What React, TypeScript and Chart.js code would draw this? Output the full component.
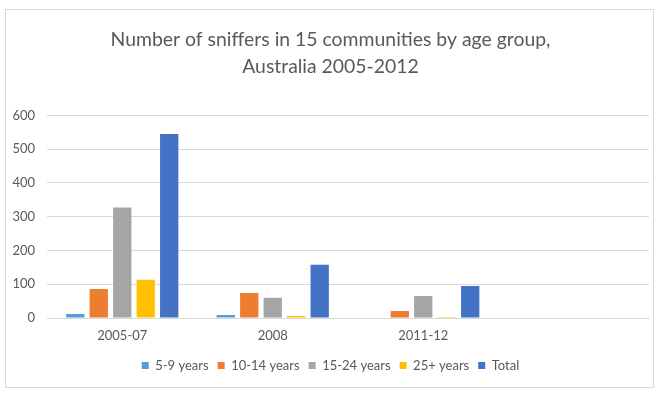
import React, { useEffect, useRef } from "react";
import { Chart, registerables } from "chart.js";

Chart.register(...registerables);

const categories = ["2005-07", "2008", "2011-12", ""];
const fiveToNine = [12, 9, 0, null];
const tenToFourteen = [86, 74, 21, null];
const fifteenToTwentyFour = [327, 60, 65, null];
const twentyFivePlus = [113, 6, 3, null];
const totals = [545, 158, 95, null];

const seriesNames = ["5-9 years", "10-14 years", "15-24 years", "25+ years", "Total"];
const seriesColors = ["#5B9BD5", "#ED7D31", "#A5A5A5", "#FFC000", "#4472C4"];
const titleLines = ["Number of sniffers in 15 communities by age group,", "Australia 2005-2012"];

const FONT = "Lato, 'Liberation Sans', sans-serif";
const TEXT = "#595959";

export default function App() {
  const ref = useRef<HTMLCanvasElement | null>(null);
  useEffect(() => {
    if (!ref.current) return;
    const values = [fiveToNine, tenToFourteen, fifteenToTwentyFour, twentyFivePlus, totals];
    const chart = new Chart(ref.current, {
      type: "bar",
      data: {
        labels: categories,
        datasets: values.map((v, i) => ({
          label: seriesNames[i],
          data: v,
          backgroundColor: seriesColors[i],
          borderWidth: 0,
          categoryPercentage: 0.78,
          barPercentage: 0.78,
        })),
      },
      options: {
        responsive: false,
        animation: false,
        devicePixelRatio: 1,
        layout: { padding: { left: 12, right: 12, top: 0, bottom: 13 } },
        plugins: {
          tooltip: { enabled: false },
          title: {
            display: true,
            text: titleLines,
            color: TEXT,
            font: { family: FONT, size: 19.4, weight: "normal", lineHeight: 1.4 },
            padding: { top: 26, bottom: 35 },
          },
          legend: {
            position: "bottom",
            labels: {
              color: TEXT,
              font: { family: FONT, size: 13 },
              boxWidth: 7,
              boxHeight: 7,
              padding: 9,
            },
          },
        },
        scales: {
          x: {
            grid: { display: false, drawTicks: false },
            border: { display: true, color: "#D9D9D9", width: 1 },
            ticks: { color: TEXT, font: { family: FONT, size: 13 }, padding: 10 },
            afterFit: (s: any) => {
              s.height = 32;
            },
          },
          y: {
            min: 0,
            max: 600,
            grid: { color: "#D9D9D9", drawTicks: false },
            border: { display: false },
            ticks: { stepSize: 100, color: TEXT, font: { family: FONT, size: 13 }, padding: 12 },
            afterFit: (s: any) => {
              s.width = 35;
            },
          },
        },
      },
    } as any);
    return () => chart.destroy();
  }, []);
  return (
    <div style={{ position: "absolute", left: 0, top: 0, width: 661, height: 395, background: "#fff" }}>
      <div
        style={{
          position: "absolute",
          left: 5,
          top: 9,
          width: 649,
          height: 379,
          border: "1px solid #D9D9D9",
          boxSizing: "border-box",
          pointerEvents: "none",
        }}
      />
      <canvas ref={ref} width={661} height={395} style={{ position: "absolute", left: 0, top: 0 }} />
    </div>
  );
}
